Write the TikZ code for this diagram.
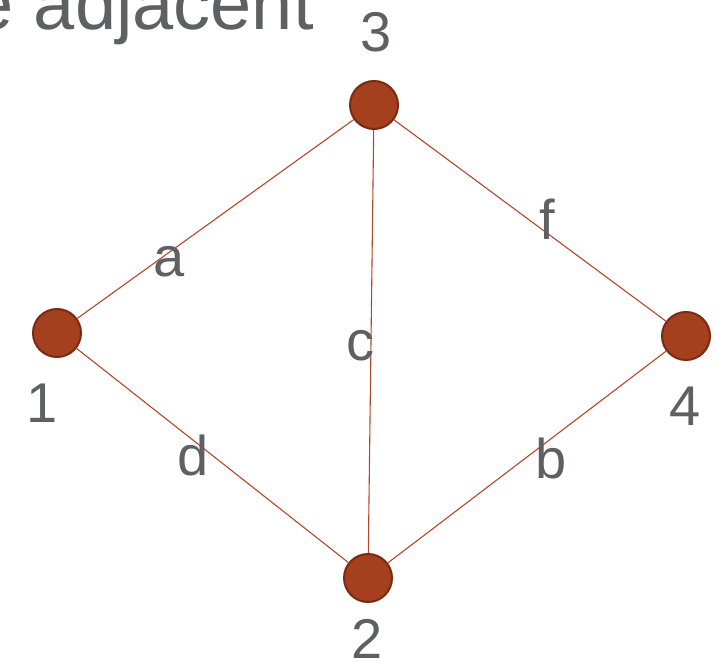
\documentclass[tikz,border=0pt]{standalone}
\usepackage{fontspec}
\setmainfont{Liberation Sans}
\usepackage{xcolor}
\usepackage{tikz}
\usetikzlibrary{positioning}
\definecolor{vertexRed}{HTML}{A5401F}
\definecolor{vertexDark}{HTML}{7A2A12}
\definecolor{edgeRed}{HTML}{B4472A}
\definecolor{labelGray}{HTML}{5F6064}
\newcommand{\figlabelfont}{\fontsize{56}{60}\selectfont}
\newcommand{\figtitlefont}{\fontsize{74}{80}\selectfont}

\begin{document}
\begin{tikzpicture}[
  x=1pt, y=-1pt,
  vertex/.style={circle, draw=vertexDark, fill=vertexRed, line width=2pt,
    minimum size=48pt, inner sep=0pt},
  edge/.style={edgeRed, line width=1.1pt},
  vlabel/.style={text=labelGray, font=\figlabelfont, anchor=base, inner sep=0pt},
  elabel/.style={text=labelGray, font=\figlabelfont, anchor=base, inner sep=0pt},
]
\clip (0,0) rectangle (726,663);

% Title fragment (cut off by the frame)
\node[text=labelGray, font=\figtitlefont, anchor=base east, inner sep=0pt] (title) at (314,30) {e adjacent};

% Vertices
\node[vertex] (v3) at (374,105) {};
\node[vertex] (v1) at (57,333) {};
\node[vertex] (v4) at (686,336) {};
\node[vertex] (v2) at (368,578) {};

% Edges
\draw[edge] (v1) -- (v3);
\draw[edge] (v3) -- (v4);
\draw[edge] (v3) -- (v2);
\draw[edge] (v1) -- (v2);
\draw[edge] (v2) -- (v4);

% Vertex labels
\node[vlabel] (l3) at (376,52) {3};
\node[vlabel] (l1) at (42,422) {1};
\node[vlabel] (l4) at (685,425) {4};
\node[vlabel] (l2) at (367,658) {2};

% Edge labels
\node[elabel] (la) at (169,277) {a};
\node[elabel] (lf) at (547,240) {f};
\node[elabel] (lc) at (360,360) {c};
\node[elabel] (ld) at (193,475) {d};
\node[elabel] (lb) at (551,478) {b};
\end{tikzpicture}
\end{document}
